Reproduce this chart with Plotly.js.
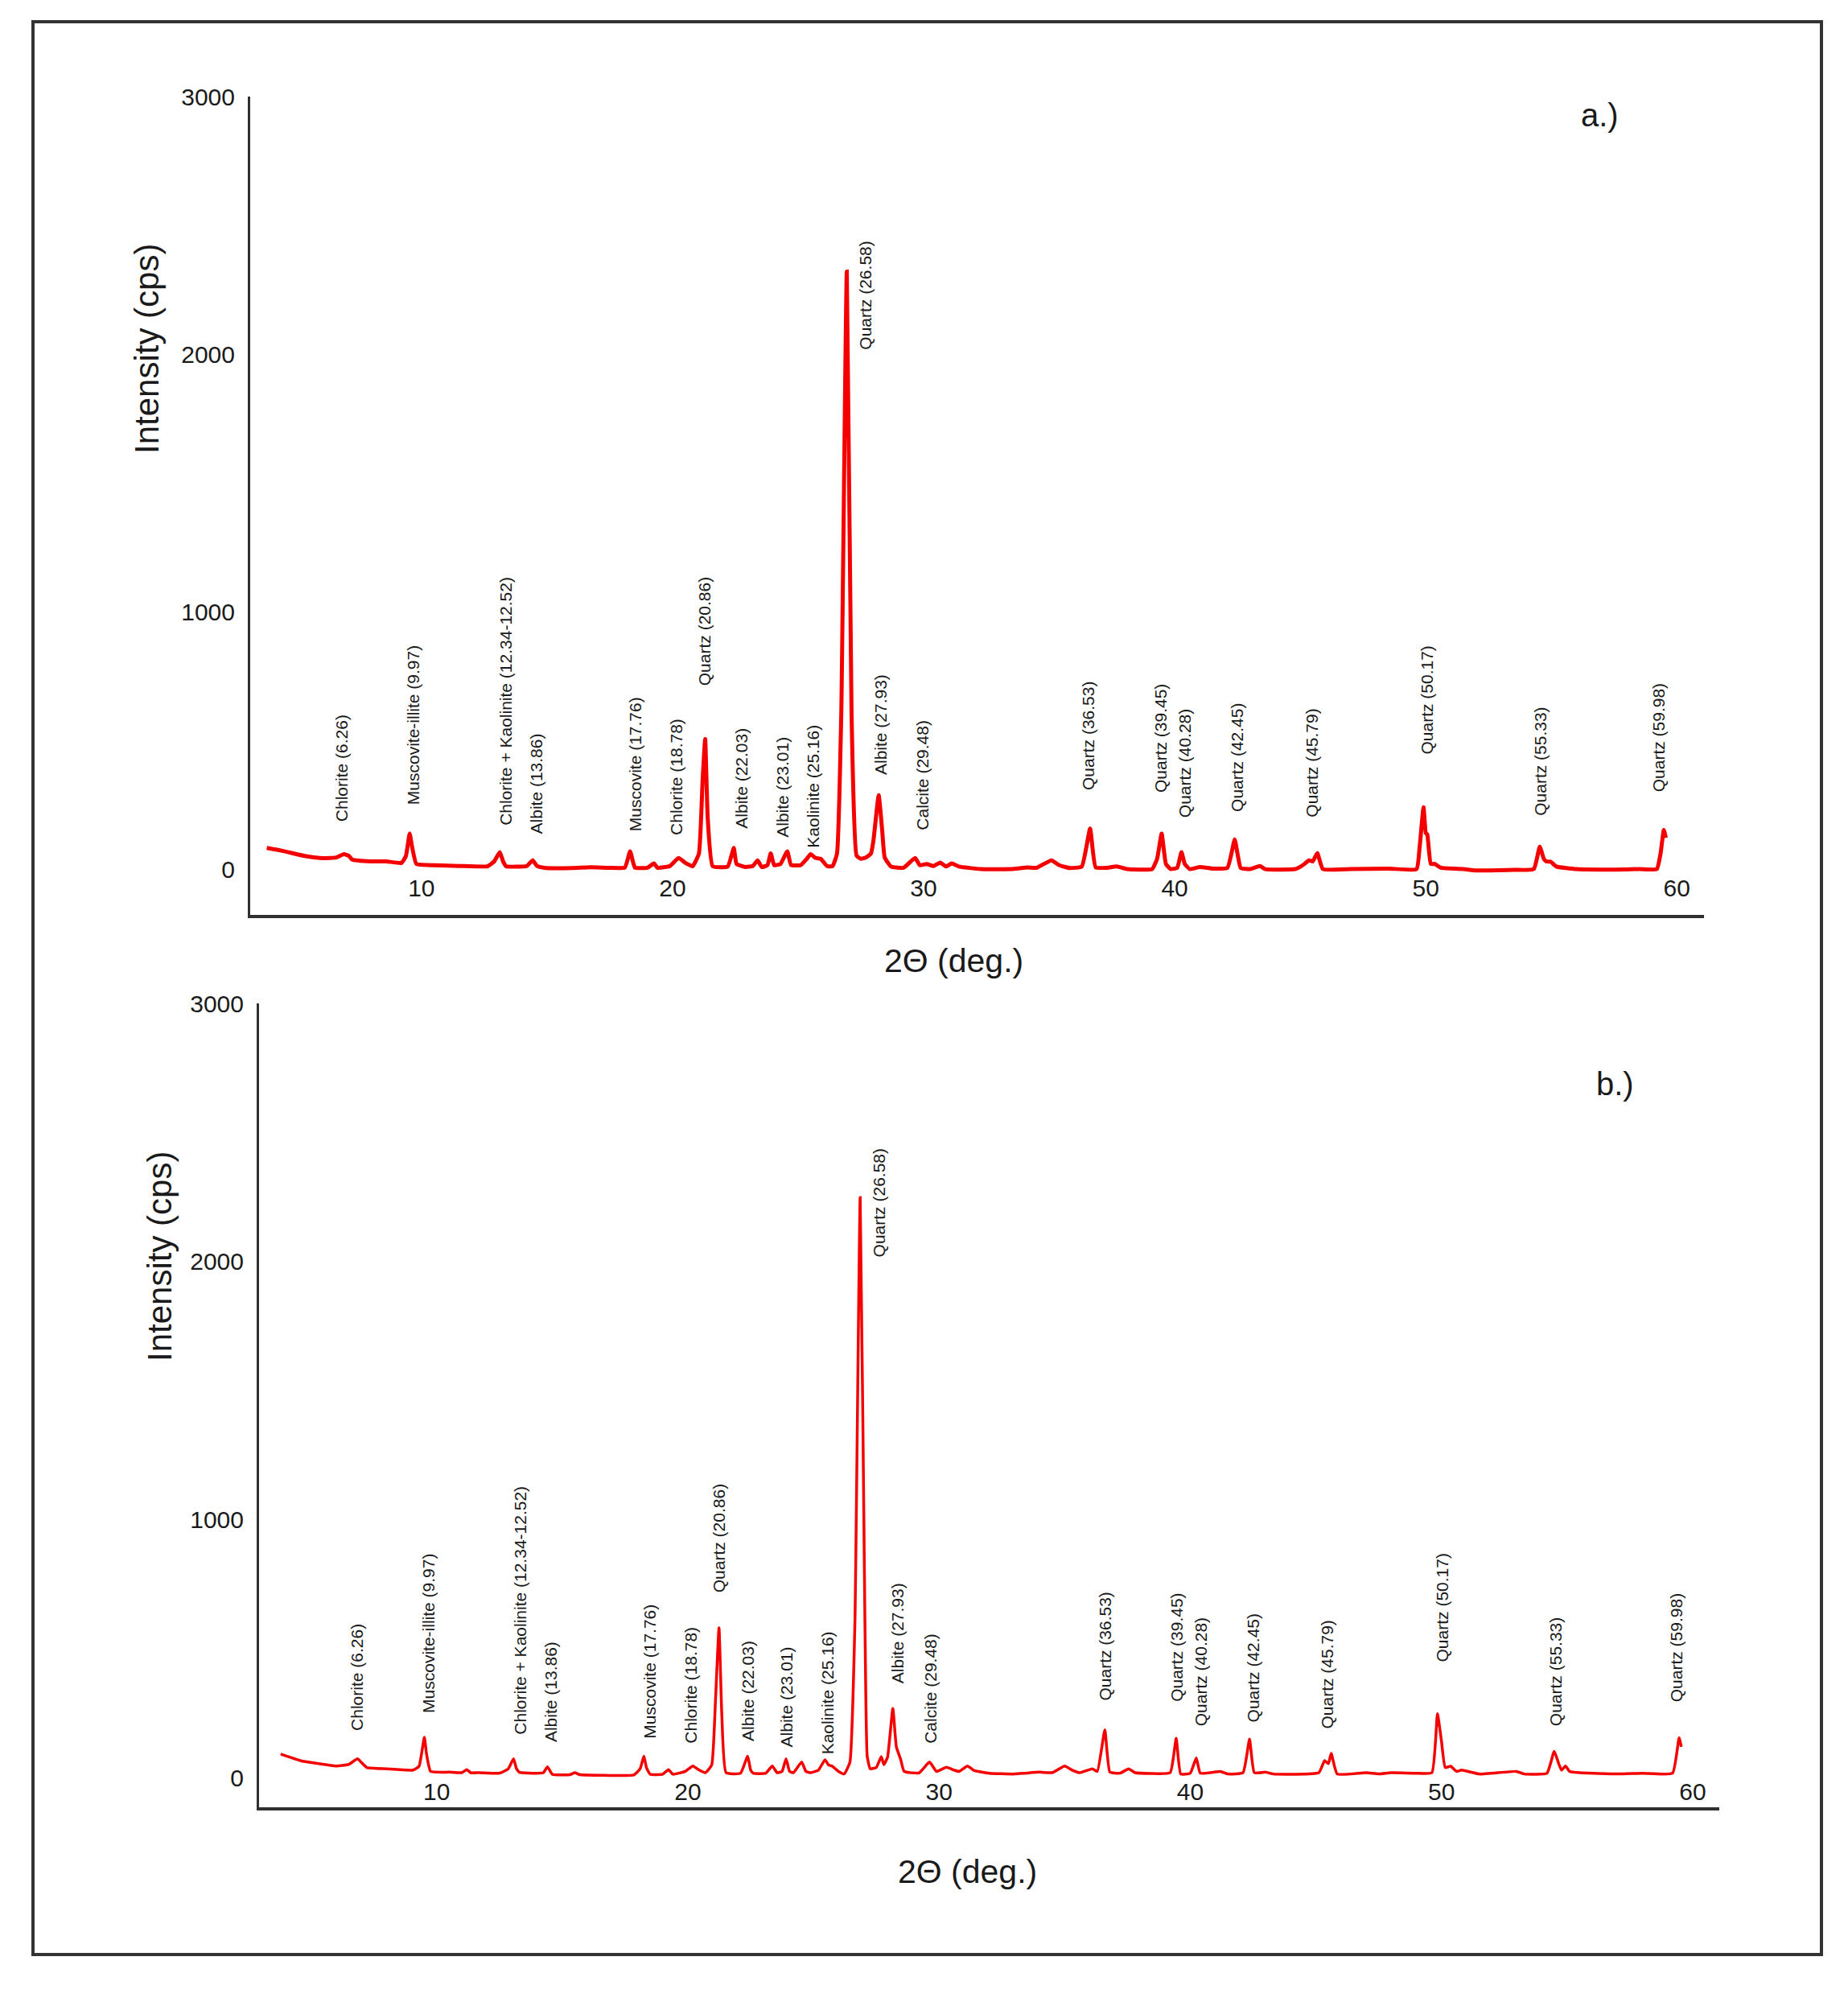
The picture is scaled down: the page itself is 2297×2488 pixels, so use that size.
<!DOCTYPE html>
<html>
<head>
<meta charset="utf-8">
<script src="https://cdn.plot.ly/plotly-3.0.1.min.js"></script>
<style>
  html, body { margin: 0; padding: 0; background: #ffffff; }
  #chart { width: 2297px; height: 2488px; }
</style>
</head>
<body>
<div id="chart"></div>
<script>
// ---------- data ----------
// Panel a.) : 2θ (deg.) and intensity (cps)
const twoThetaA = [3.84,4.5,5.4,6.09,6.6,6.91,7.1,7.24,8.0,8.6,9.2,9.38,9.53,9.62,9.8,10.5,11.5,12.63,12.9,13.12,13.25,13.37,14.2,14.43,14.6,14.9,16.0,16.72,17.5,18.1,18.31,18.42,18.5,19.0,19.26,19.4,19.9,20.24,20.5,20.8,21.05,21.2,21.3,21.4,21.6,22.2,22.44,22.55,22.9,23.2,23.39,23.55,23.78,23.91,24.05,24.3,24.57,24.72,25.1,25.35,25.5,25.7,25.9,26.15,26.37,26.55,26.72,26.94,27.13,27.33,27.5,27.7,27.9,28.0,28.21,28.35,28.45,28.7,29.2,29.66,29.85,30.12,30.4,30.66,30.9,31.12,31.4,32.27,33.5,34.12,34.5,35.09,35.4,35.83,36.3,36.63,36.85,37.3,37.69,38.1,39.1,39.3,39.48,39.65,39.84,40.1,40.27,40.4,40.6,41.0,41.5,42.1,42.39,42.5,42.63,43.0,43.4,43.6,44.8,45.1,45.35,45.5,45.68,45.9,47.0,48.5,49.63,49.75,49.91,50.0,50.06,50.2,50.36,50.6,51.5,52.0,53.5,54.3,54.54,54.7,54.8,54.98,55.2,56.0,57.5,58.5,59.2,59.35,59.48,59.56];
const intensityA = [82,70,50,42,45,58,52,37,30,30,24,50,138,90,20,15,12,11,30,66,30,11,12,34,12,5,4,7,5,6,69,30,6,5,22,5,12,43,25,11,60,350,505,200,11,10,82,20,8,12,34,8,15,61,15,20,69,16,15,40,58,43,40,12,11,60,600,2320,600,52,40,45,60,110,287,150,45,10,5,43,15,20,12,25,10,22,10,0,0,6,5,34,15,4,10,157,7,5,10,0,0,40,138,20,0,5,66,20,0,8,2,5,115,60,4,0,12,0,0,15,34,30,62,0,0,2,0,80,240,140,134,20,20,5,0,-5,-3,0,87,40,30,28,10,0,-2,0,0,60,152,121];

// Panel b.)
const twoThetaB = [3.79,4.57,5.3,6.0,6.5,6.85,7.0,7.22,8.0,9.06,9.3,9.51,9.6,9.76,10.5,11.0,11.2,11.35,11.7,12.5,12.85,13.06,13.18,13.3,14.0,14.25,14.41,14.6,15.3,15.5,15.7,16.5,17.85,18.1,18.25,18.35,18.5,19.0,19.23,19.4,19.9,20.2,20.45,20.7,20.95,21.1,21.24,21.35,21.52,22.1,22.38,22.5,22.6,23.1,23.36,23.55,23.75,23.91,24.05,24.2,24.53,24.7,24.9,25.2,25.46,25.6,25.75,26.0,26.22,26.45,26.65,26.86,27.05,27.14,27.26,27.5,27.7,27.8,27.95,28.16,28.3,28.47,28.61,29.2,29.62,29.9,30.29,30.6,30.8,31.13,31.4,32.0,33.0,34.0,34.5,35.0,35.3,35.6,36.1,36.3,36.6,36.8,37.2,37.55,37.8,38.4,39.2,39.44,39.62,40.0,40.24,40.4,41.2,41.5,42.1,42.36,42.55,43.0,43.3,45.12,45.35,45.5,45.61,45.85,47.0,47.5,48.0,49.0,49.62,49.84,50.0,50.15,50.37,50.6,50.8,51.5,52.98,53.3,54.2,54.49,54.65,54.78,54.94,55.1,55.5,57.0,58.0,59.2,59.46,59.55];
const intensityB = [92,67,55,46,52,74,60,40,35,30,45,157,90,25,22,20,32,20,20,18,35,74,35,21,18,20,43,14,12,20,12,10,11,35,84,40,14,14,32,14,25,46,30,20,50,300,581,250,20,18,84,30,18,18,46,20,25,74,25,20,61,25,20,30,70,50,45,25,15,60,600,2248,600,83,35,40,82,51,80,269,120,72,25,19,61,25,41,30,25,46,28,18,15,22,20,46,30,20,35,25,186,22,18,35,20,17,20,153,15,18,77,18,25,15,20,150,20,22,15,20,67,55,95,15,20,15,20,18,20,248,143,40,45,25,30,15,25,15,18,103,60,30,46,25,20,15,18,18,155,120];

// Tick values
const xTickVals = [10, 20, 30, 40, 50, 60];
const yTickVals = [0, 1000, 2000, 3000];

// Peak identifications
const peakLabels = ["Chlorite (6.26)", "Muscovite-illite (9.97)", "Chlorite + Kaolinite (12.34-12.52)", "Albite (13.86)", "Muscovite (17.76)", "Chlorite (18.78)", "Quartz (20.86)", "Albite (22.03)", "Albite (23.01)", "Kaolinite (25.16)", "Quartz (26.58)", "Albite (27.93)", "Calcite (29.48)", "Quartz (36.53)", "Quartz (39.45)", "Quartz (40.28)", "Quartz (42.45)", "Quartz (45.79)", "Quartz (50.17)", "Quartz (55.33)", "Quartz (59.98)"];
// Label anchors in data units (2θ, cps) where each rotated label starts
const labelThetaA = [6.84, 9.67, 13.35, 14.58, 18.52, 20.15, 21.27, 22.74, 24.37, 25.59, 27.67, 28.28, 29.96, 36.57, 39.46, 40.38, 42.5, 45.46, 50.03, 54.55, 59.28];
const labelCpsA = [180, 245, 166, 134, 144, 129, 709, 154, 119, 79, 2013, 362, 149, 302, 293, 198, 218, 198, 441, 203, 297];
const labelThetaB = [6.84, 9.69, 13.34, 14.56, 18.48, 20.1, 21.22, 22.39, 23.91, 25.54, 27.62, 28.33, 29.65, 36.62, 39.46, 40.43, 42.51, 45.46, 50.03, 54.55, 59.33];
const labelCpsB = [178, 248, 163, 134, 149, 129, 713, 139, 114, 89, 2015, 361, 129, 297, 292, 198, 213, 188, 446, 198, 292];

// ---------- figure ----------
const W = 2297, H = 2488;
const FONT = "Liberation Sans, Arial, Helvetica, sans-serif";
const INK = "#1a1a1a";
const RED = "#f40000";

const traces = [
  { x: twoThetaA, y: intensityA, type: "scatter", mode: "lines", xaxis: "x", yaxis: "y",
    line: { color: RED, width: 5, shape: "spline", smoothing: 0.4 }, showlegend: false, hoverinfo: "x+y" },
  { x: twoThetaB, y: intensityB, type: "scatter", mode: "lines", xaxis: "x2", yaxis: "y2",
    line: { color: RED, width: 3.5, shape: "spline", smoothing: 0.4 }, showlegend: false, hoverinfo: "x+y" }
];

function peakAnnotations(xs, ys, xref, yref) {
  return peakLabels.map((t, i) => ({
    text: t, x: xs[i], y: ys[i], xref: xref, yref: yref,
    textangle: -90, xanchor: "center", yanchor: "bottom", showarrow: false,
    font: { family: FONT, size: 21, color: INK }, borderpad: 0
  }));
}

function px(x) { return x / W; }
function py(y) { return 1 - y / H; }

const annotations = [
  ...peakAnnotations(labelThetaA, labelCpsA, "x", "y"),
  ...peakAnnotations(labelThetaB, labelCpsB, "x2", "y2"),
  { text: "Intensity (cps)", xref: "paper", yref: "paper", x: px(182), y: py(433), textangle: -90,
    xanchor: "center", yanchor: "middle", showarrow: false, font: { family: FONT, size: 42, color: INK } },
  { text: "Intensity (cps)", xref: "paper", yref: "paper", x: px(198), y: py(1562), textangle: -90,
    xanchor: "center", yanchor: "middle", showarrow: false, font: { family: FONT, size: 42, color: INK } },
  { text: "2Θ (deg.)", xref: "paper", yref: "paper", x: px(1185), y: py(1194),
    xanchor: "center", yanchor: "middle", showarrow: false, font: { family: FONT, size: 41, color: INK } },
  { text: "2Θ (deg.)", xref: "paper", yref: "paper", x: px(1202), y: py(2326),
    xanchor: "center", yanchor: "middle", showarrow: false, font: { family: FONT, size: 41, color: INK } },
  { text: "a.)", xref: "paper", yref: "paper", x: px(1988), y: py(143),
    xanchor: "center", yanchor: "middle", showarrow: false, font: { family: FONT, size: 40, color: INK } },
  { text: "b.)", xref: "paper", yref: "paper", x: px(2007), y: py(1347),
    xanchor: "center", yanchor: "middle", showarrow: false, font: { family: FONT, size: 40, color: INK } }
];

const xCommon = {
  tickmode: "array", tickvals: xTickVals, ticktext: xTickVals.map(String),
  ticks: "", showgrid: false, zeroline: false, showline: true,
  linecolor: "#303030", linewidth: 4, ticklabelposition: "inside",
  tickfont: { family: FONT, size: 30, color: INK }, automargin: false, fixedrange: true
};
const yCommon = {
  tickmode: "array", tickvals: yTickVals, ticktext: yTickVals.map(String),
  ticks: "", showgrid: false, zeroline: false, showline: true,
  linecolor: "#303030", linewidth: 3, ticklabelstandoff: 10,
  tickfont: { family: FONT, size: 30, color: INK }, automargin: false, fixedrange: true
};

const layout = {
  width: W, height: H,
  margin: { l: 0, r: 0, t: 0, b: 0, pad: 0 },
  paper_bgcolor: "#ffffff", plot_bgcolor: "rgba(0,0,0,0)",
  showlegend: false,
  xaxis: Object.assign({}, xCommon, { domain: [px(311), px(2118)], range: [3.18, 61.08], anchor: "y", ticklabelstandoff: 20 }),
  yaxis: Object.assign({}, yCommon, { domain: [py(1137), py(120)], range: [-178, 3000], anchor: "x" }),
  xaxis2: Object.assign({}, xCommon, { domain: [px(322), px(2137)], range: [2.93, 61.06], anchor: "y2", ticklabelstandoff: 6 }),
  yaxis2: Object.assign({}, yCommon, { domain: [py(2246), py(1247)], range: [-114, 3000], anchor: "x2" }),
  annotations: annotations,
  shapes: [
    { type: "rect", xref: "paper", yref: "paper", x0: px(41), x1: px(2264), y0: py(2429), y1: py(27),
      line: { color: "#333333", width: 4 }, fillcolor: "rgba(0,0,0,0)" }
  ]
};

Plotly.newPlot("chart", traces, layout, { staticPlot: true, displayModeBar: false });
</script>
</body>
</html>
